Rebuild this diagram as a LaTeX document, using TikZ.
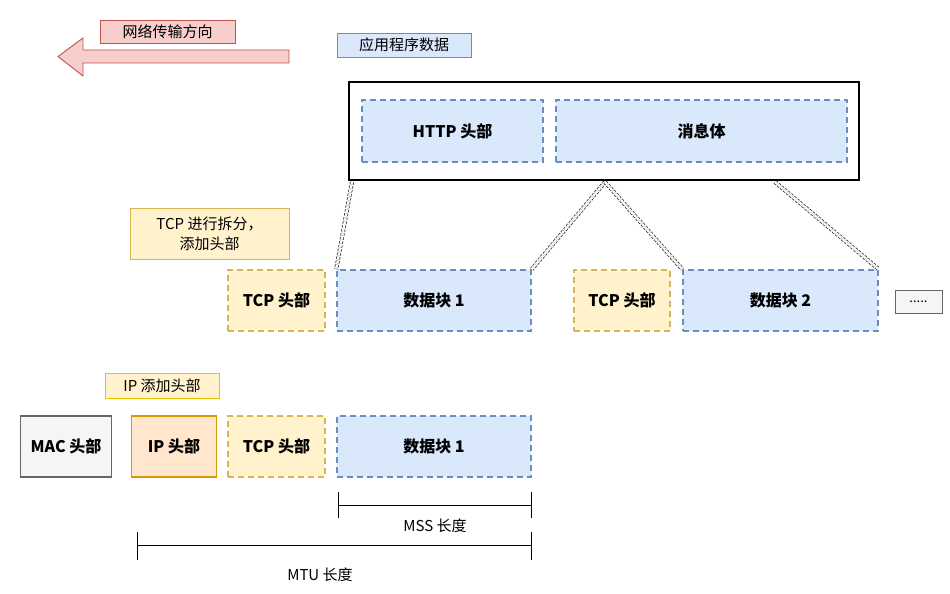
\documentclass[tikz,border=0pt]{standalone}
\usepackage{fontspec}
\setmainfont{Noto Sans CJK SC}
\definecolor{bfill}{HTML}{DAE8FC}\definecolor{bdraw}{HTML}{6C8EBF}
\definecolor{yfill}{HTML}{FFF2CC}\definecolor{ydraw}{HTML}{D6B656}
\definecolor{pfill}{HTML}{F8CECC}\definecolor{pdraw}{HTML}{B85450}
\definecolor{ofill}{HTML}{FFE6CC}\definecolor{odraw}{HTML}{D79B00}
\definecolor{gfill}{HTML}{F5F5F5}\definecolor{gdraw}{HTML}{666666}
\tikzset{
 box/.style={draw,line width=1.5pt,inner sep=0,font=\fontsize{16}{18}\selectfont\bfseries},
 blue/.style={box,fill=bfill,draw=bdraw,dash pattern=on 6pt off 4pt},
 yel/.style={box,fill=yfill,draw=ydraw,dash pattern=on 6pt off 4pt},
 lab/.style={draw,line width=0.9pt,inner sep=2pt,font=\fontsize{15}{20}\selectfont,align=center},
 dd/.style={double=white,double distance=2.5pt,dash pattern=on 2.5pt off 1.5pt,line width=0.8pt,draw=black!80},
}
\begin{document}
\begin{tikzpicture}[x=1pt,y=-1pt]
\useasboundingbox (0,0) rectangle (950,594);
\draw[pdraw,fill=pfill,line width=0.9pt] (289,50) -- (83,50) -- (83,38) -- (58,56.5) -- (83,76) -- (83,63) -- (289,63) -- cycle;
\node[lab,fill=pfill,draw=pdraw,minimum width=135,minimum height=23] (net) at (167.5,31.5) {网络传输方向};
\node[lab,fill=bfill,draw=bdraw,minimum width=134,minimum height=24] (app) at (404,45) {应用程序数据};
\node[draw,line width=2.5pt,minimum width=510,minimum height=98,inner sep=0] (big) at (604,131) {};
\node[blue,minimum width=181,minimum height=62] (http) at (452.5,131) {HTTP 头部};
\node[blue,minimum width=291,minimum height=62] (msg) at (701.5,131) {消息体};
\node[lab,fill=yfill,draw=ydraw,minimum width=159,minimum height=51] (tcpl) at (209.5,233.5) {TCP 进行拆分，\\添加头部};
\node[yel,minimum width=97,minimum height=61] (t1) at (276.5,300.5) {TCP 头部};
\node[blue,minimum width=194,minimum height=61] (d1) at (434,300.5) {数据块 1};
\node[yel,minimum width=96,minimum height=61] (t2) at (622,300.5) {TCP 头部};
\node[blue,minimum width=195,minimum height=61] (d2) at (780.5,300.5) {数据块 2};
\node[draw=gdraw,fill=gfill,line width=0.9pt,minimum width=47,minimum height=23,inner sep=0,font=\fontsize{13}{15}\selectfont] (dots) at (918.5,301.5) {.....};
\coordinate (a1) at (352,182); \coordinate (a2) at (605,182); \coordinate (a3) at (775,182);
\draw[dd] (a1) -- (d1.north west);
\draw[dd] (a2) -- (d1.north east);
\draw[dd] (a2) -- (d2.north west);
\draw[dd] (a3) -- (d2.north east);
\node[lab,fill=yfill,draw=odraw!60!yellow,minimum width=114,minimum height=25] (ipl) at (162,385.5) {IP 添加头部};
\node[box,fill=gfill,draw=gdraw,minimum width=91,minimum height=61] (mac) at (66,446.5) {MAC 头部};
\node[box,fill=ofill,draw=odraw,minimum width=85,minimum height=61] (ip) at (174,446.5) {IP 头部};
\node[yel,minimum width=97,minimum height=61] (t3) at (276.5,446.5) {TCP 头部};
\node[blue,minimum width=194,minimum height=61] (d3) at (434,446.5) {数据块 1};
\coordinate (m1) at (338,505); \coordinate (m2) at (531,505);
\draw[line width=0.9pt] (m1) -- (m2) (338,492) -- (338,518) (531,492) -- (531,518);
\node[font=\fontsize{15}{18}\selectfont] (mss) at (435,526) {MSS 长度};
\coordinate (u1) at (137,545); \coordinate (u2) at (531,545);
\draw[line width=0.9pt] (u1) -- (u2) (137,532) -- (137,560) (531,532) -- (531,560);
\node[font=\fontsize{15}{18}\selectfont] (mtu) at (320,575) {MTU 长度};
\end{tikzpicture}
\end{document}
